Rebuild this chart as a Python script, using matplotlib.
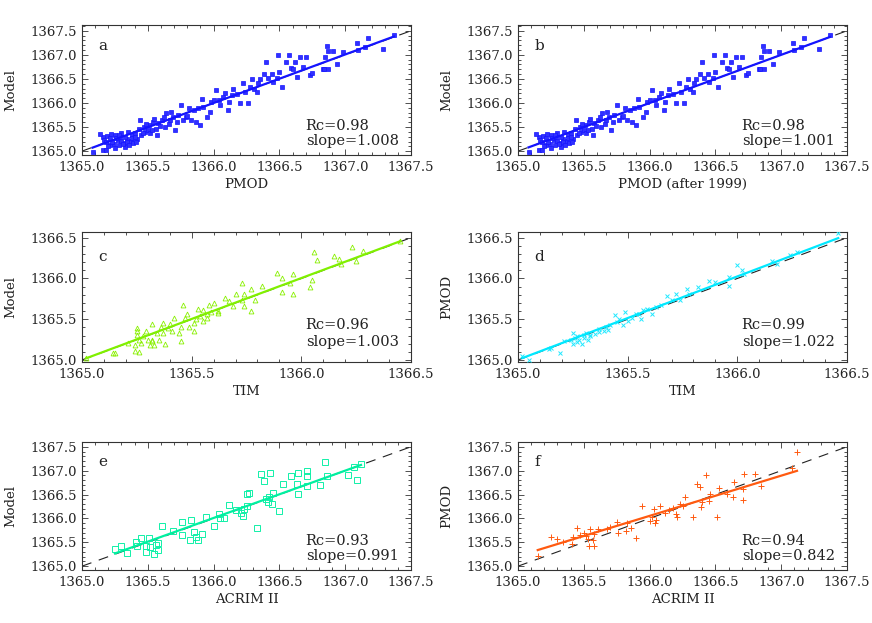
import numpy as np
import matplotlib
matplotlib.use("Agg")
import matplotlib.pyplot as plt
from matplotlib.ticker import MultipleLocator, FormatStrFormatter

plt.rcParams['font.family'] = ['DejaVu Serif']

# ---- data -----------------------------------------------------------------
# panel a / b : PMOD vs Model
pmod_a = [1365.08,1365.16,1365.18,1365.16,1365.19,1365.21,1365.17,1365.21,1365.24,1365.25,
          1365.27,1365.28,1365.29,1365.30,1365.32,1365.33,1365.34,1365.35,1365.37,1365.38,
          1365.39,1365.40,1365.42,1365.44,1365.45,1365.47,1365.48,1365.50,1365.51,1365.52,
          1365.54,1365.56,1365.57,1365.58,1365.61,1365.63,1365.64,1365.67,1365.69,1365.71,
          1365.73,1365.75,1365.77,1365.79,1365.81,1365.83,1365.85,1365.87,1365.90,1365.91,
          1365.92,1365.95,1365.97,1365.98,1366.00,1366.02,1366.04,1366.05,1366.07,1366.09,
          1366.11,1366.14,1366.15,1366.20,1366.22,1366.24,1366.26,1366.28,1366.29,1366.31,
          1366.34,1366.35,1366.38,1366.40,1366.41,1366.45,1366.48,1366.49,1366.50,1366.52,
          1366.55,1366.57,1366.59,1366.62,1366.63,1366.66,1366.68,1366.70,1366.73,1366.83,
          1366.85,1366.86,1366.87,1366.84,1366.87,1366.91,1366.94,1366.98,1367.09,1367.10,
          1367.15,1367.17,1367.29,1367.37,
          1365.14,1365.18,1365.20,1365.22,1365.23,1365.25,1365.26,1365.28,1365.30,1365.31,
          1365.33,1365.34,1365.36,1365.38,1365.40,1365.41,1365.43,1365.46,1365.49,1365.53,
          1365.55,1365.59,1365.62,1365.66,1365.68,1365.72,1365.80,1365.88,1366.12,1366.18,
          1366.33,1366.44,1366.60,1366.75]
model_a = [1364.98,1365.03,1365.02,1365.30,1365.31,1365.28,1365.24,1365.12,1365.15,1365.33,
           1365.23,1365.12,1365.30,1365.37,1365.17,1365.09,1365.26,1365.40,1365.21,1365.33,
           1365.16,1365.37,1365.26,1365.64,1365.33,1365.51,1365.40,1365.44,1365.54,1365.37,
           1365.61,1365.47,1365.33,1365.58,1365.64,1365.51,1365.80,1365.64,1365.71,1365.44,
           1365.75,1365.96,1365.64,1365.71,1365.89,1365.64,1365.85,1365.61,1365.54,1366.09,
           1365.92,1365.71,1365.82,1366.03,1366.06,1366.27,1366.06,1365.96,1366.13,1366.20,
           1365.85,1366.16,1366.30,1365.99,1366.41,1366.23,1365.99,1366.34,1366.49,1366.30,
           1366.41,1366.49,1366.61,1366.86,1366.51,1366.44,1366.51,1366.99,1366.65,1366.34,
           1366.86,1366.99,1366.72,1366.86,1366.55,1366.96,1366.75,1366.95,1366.58,1366.70,
           1366.96,1367.18,1367.07,1366.70,1366.70,1367.09,1366.80,1367.05,1367.24,1367.10,
           1367.17,1367.36,1367.12,1367.41,
           1365.35,1365.20,1365.10,1365.36,1365.19,1365.07,1365.28,1365.34,1365.22,1365.14,
           1365.30,1365.20,1365.13,1365.27,1365.29,1365.18,1365.45,1365.38,1365.56,1365.43,
           1365.66,1365.52,1365.70,1365.57,1365.82,1365.60,1365.74,1365.90,1366.02,1366.18,
           1366.22,1366.60,1366.70,1366.62]
pmod_b = pmod_a
model_b = model_a

# panel c : TIM vs Model
tim_c = [1365.02,1365.14,1365.15,1365.21,1365.24,1365.25,1365.25,1365.25,1365.26,1365.24,
         1365.26,1365.27,1365.28,1365.29,1365.30,1365.31,1365.32,1365.32,1365.32,1365.33,
         1365.34,1365.35,1365.36,1365.37,1365.37,1365.38,1365.39,1365.40,1365.41,1365.42,
         1365.44,1365.45,1365.45,1365.46,1365.47,1365.48,1365.49,1365.51,1365.51,1365.52,
         1365.53,1365.54,1365.55,1365.55,1365.57,1365.57,1365.58,1365.59,1365.60,1365.62,
         1365.62,1365.65,1365.67,1365.69,1365.70,1365.73,1365.73,1365.74,1365.74,1365.77,
         1365.77,1365.79,1365.82,1365.89,1365.91,1365.91,1365.95,1365.96,1365.96,1366.04,
         1366.05,1366.06,1366.07,1366.15,1366.17,1366.18,1366.23,1366.25,1366.28,1366.45]
model_c = [1365.03,1365.08,1365.08,1365.21,1365.11,1365.39,1365.35,1365.31,1365.10,1365.18,
           1365.25,1365.21,1365.29,1365.35,1365.25,1365.18,1365.23,1365.44,1365.25,1365.18,
           1365.33,1365.25,1365.41,1365.45,1365.33,1365.19,1365.39,1365.44,1365.35,1365.52,
           1365.33,1365.23,1365.41,1365.67,1365.52,1365.56,1365.40,1365.45,1365.35,1365.50,
           1365.62,1365.54,1365.48,1365.61,1365.57,1365.52,1365.68,1365.59,1365.70,1365.58,
           1365.60,1365.76,1365.72,1365.66,1365.81,1365.94,1365.74,1365.81,1365.66,1365.87,
           1365.60,1365.74,1365.91,1366.07,1366.00,1365.83,1365.95,1365.81,1366.05,1365.90,
           1365.98,1366.32,1366.23,1366.27,1366.24,1366.18,1366.38,1366.21,1366.34,1366.46]

# panel d : TIM vs PMOD
tim_d = [1365.02,1365.05,1365.14,1365.15,1365.19,1365.21,1365.24,1365.25,1365.25,1365.26,
         1365.27,1365.27,1365.28,1365.29,1365.30,1365.30,1365.31,1365.32,1365.33,1365.33,
         1365.35,1365.37,1365.37,1365.39,1365.40,1365.41,1365.42,1365.44,1365.45,1365.46,
         1365.48,1365.49,1365.50,1365.52,1365.54,1365.55,1365.56,1365.57,1365.59,1365.61,
         1365.63,1365.65,1365.68,1365.70,1365.72,1365.74,1365.77,1365.78,1365.82,1365.87,
         1365.90,1365.96,1365.96,1366.00,1366.02,1366.03,1366.16,1366.18,1366.24,1366.27,
         1366.46]
pmod_d = [1365.05,1365.00,1365.14,1365.15,1365.09,1365.23,1365.25,1365.33,1365.19,1365.27,
          1365.22,1365.29,1365.25,1365.19,1365.31,1365.27,1365.33,1365.25,1365.29,1365.31,
          1365.32,1365.34,1365.38,1365.36,1365.41,1365.37,1365.43,1365.55,1365.47,1365.50,
          1365.43,1365.59,1365.48,1365.52,1365.56,1365.57,1365.50,1365.61,1365.63,1365.56,
          1365.65,1365.67,1365.79,1365.73,1365.81,1365.74,1365.87,1365.81,1365.90,1365.97,
          1365.96,1366.02,1365.91,1366.16,1366.10,1366.05,1366.21,1366.18,1366.29,1366.32,
          1366.56]

# panel e : ACRIM II vs Model
acrim_e = [1365.25,1365.30,1365.34,1365.41,1365.42,1365.45,1365.49,1365.49,1365.51,1365.52,
           1365.55,1365.56,1365.58,1365.58,1365.61,1365.69,1365.76,1365.76,1365.82,1365.83,
           1365.85,1365.87,1365.88,1365.91,1365.94,1366.00,1366.04,1366.05,1366.08,1366.12,
           1366.17,1366.21,1366.22,1366.23,1366.25,1366.27,1366.25,1366.33,1366.36,1366.38,
           1366.40,1366.41,1366.42,1366.43,1366.45,1366.44,1366.50,1366.53,1366.59,1366.63,
           1366.64,1366.64,1366.71,1366.71,1366.71,1366.81,1366.85,1366.86,1367.02,1367.07,
           1367.09,1367.12]
model_e = [1365.35,1365.42,1365.28,1365.50,1365.43,1365.58,1365.43,1365.30,1365.58,1365.40,
           1365.26,1365.45,1365.49,1365.33,1365.85,1365.73,1365.92,1365.65,1365.54,1365.96,
           1365.72,1365.62,1365.54,1365.68,1366.02,1365.84,1366.10,1366.00,1366.00,1366.29,
           1366.18,1366.11,1366.06,1366.20,1366.51,1366.54,1366.27,1365.80,1366.93,1366.79,
           1366.41,1366.34,1366.45,1366.96,1366.54,1366.30,1366.15,1366.73,1366.88,1366.73,
           1366.96,1366.52,1367.00,1366.89,1366.67,1366.70,1367.19,1366.88,1366.91,1367.08,
           1366.80,1367.14]

# panel f : ACRIM II vs PMOD
acrim_f = [1365.15,1365.25,1365.30,1365.34,1365.41,1365.42,1365.45,1365.47,1365.50,1365.52,
           1365.53,1365.54,1365.55,1365.57,1365.58,1365.58,1365.61,1365.68,1365.70,1365.75,
           1365.76,1365.82,1365.83,1365.86,1365.90,1365.94,1366.00,1366.02,1366.03,1366.04,
           1366.05,1366.08,1366.12,1366.15,1366.18,1366.20,1366.21,1366.23,1366.25,1366.27,
           1366.33,1366.36,1366.38,1366.39,1366.40,1366.43,1366.45,1366.46,1366.51,1366.53,
           1366.59,1366.63,1366.64,1366.71,1366.71,1366.72,1366.80,1366.85,1367.08,1367.12]
pmod_f = [1365.22,1365.61,1365.57,1365.51,1365.47,1365.61,1365.80,1365.66,1365.70,1365.63,
          1365.57,1365.43,1365.78,1365.54,1365.42,1365.68,1365.78,1365.78,1365.81,1365.93,
          1365.70,1365.73,1365.90,1365.79,1365.59,1366.27,1365.94,1366.03,1366.20,1365.90,
          1365.97,1366.27,1366.11,1366.17,1366.22,1366.10,1366.04,1366.31,1366.27,1366.45,
          1366.04,1366.73,1366.66,1366.24,1366.34,1366.91,1366.36,1366.52,1366.04,1366.64,
          1366.52,1366.45,1366.77,1366.38,1366.61,1366.93,1366.93,1366.68,1367.05,1367.40]

letters = ['a', 'b', 'c', 'd', 'e', 'f']
xlabels = ['PMOD', 'PMOD (after 1999)', 'TIM', 'TIM', 'ACRIM II', 'ACRIM II']
ylabels = ['Model', 'Model', 'Model', 'PMOD', 'Model', 'PMOD']
rc_vals = [0.98, 0.98, 0.96, 0.99, 0.93, 0.94]
slopes = [1.008, 1.001, 1.003, 1.022, 0.991, 0.842]

xs = [pmod_a, pmod_b, tim_c, tim_d, acrim_e, acrim_f]
ys = [model_a, model_b, model_c, pmod_d, model_e, pmod_f]

# ---- styling ---------------------------------------------------------------
colors = ['#1414ff', '#1414ff', '#80f000', '#00e8ff', '#00f0a0', '#ff5a10']
marks = [dict(marker='s', ms=2.6, mfc='#3030ff', mec='#1414ff', mew=0.5),
         dict(marker='s', ms=2.6, mfc='#3030ff', mec='#1414ff', mew=0.5),
         dict(marker='^', ms=3.5, mfc='none', mec='#88f000', mew=0.6),
         dict(marker='x', ms=3.3, mfc='none', mec='#20e8ff', mew=0.7),
         dict(marker='s', ms=3.8, mfc='none', mec='#10f0a8', mew=0.7),
         dict(marker='+', ms=3.8, mfc='none', mec='#ff5a10', mew=0.7)]

W, H = 872, 623
cols = [82, 518]
rows = [(25, 155), (232, 362), (442, 570)]
xlims = [(1365.0, 1367.5), (1365.0, 1366.5), (1365.0, 1367.5)]
ylims = [(1364.92, 1367.62), (1364.975, 1366.57), (1364.92, 1367.60)]
txt_y = [(0.22, 0.11), (0.285, 0.155), (0.23, 0.11)]
let_y = [0.84, 0.81, 0.845]

fig = plt.figure(figsize=(W/100, H/100), dpi=100)

for i in range(6):
    r, c = divmod(i, 2)
    top, bot = rows[r]
    ax = fig.add_axes([cols[c]/W, (H-bot)/H, 329/W, (bot-top)/H])
    x = np.array(xs[i]); y = np.array(ys[i])
    lo, hi = xlims[r]
    ax.plot([lo, hi], [lo, hi], color='#222222', lw=0.8, dashes=(9, 7), zorder=2)
    ax.plot(x, y, ls='none', zorder=3, **marks[i])
    xf = np.array([x.min(), x.max()])
    ax.plot(xf, y.mean()+slopes[i]*(xf-x.mean()), color=colors[i], lw=1.6, zorder=4)
    ax.set_xlim(lo, hi); ax.set_ylim(*ylims[r])
    ax.xaxis.set_major_locator(MultipleLocator(0.5)); ax.xaxis.set_minor_locator(MultipleLocator(0.1))
    ax.yaxis.set_major_locator(MultipleLocator(0.5)); ax.yaxis.set_minor_locator(MultipleLocator(0.1))
    ax.xaxis.set_major_formatter(FormatStrFormatter('%.1f'))
    ax.yaxis.set_major_formatter(FormatStrFormatter('%.1f'))
    ax.tick_params(which='both', direction='in', top=True, right=True, width=0.6, labelsize=9.5,
                   color='#333333', labelcolor='#222222')
    ax.tick_params(which='major', length=4.5, pad=4)
    ax.tick_params(which='minor', length=2.2)
    for s in ax.spines.values():
        s.set_linewidth(0.8); s.set_color('#333333')
    ax.set_xlabel(xlabels[i], fontsize=9.5, labelpad=3, color='#222222')
    ax.set_ylabel(ylabels[i], fontsize=9.5, labelpad=9, color='#222222')
    ax.text(0.05, let_y[r], letters[i], transform=ax.transAxes, fontsize=11, color='#222222', va='center')
    t1, t2 = txt_y[r]
    ax.text(0.68, t1, f"Rc={rc_vals[i]:.2f}", transform=ax.transAxes, fontsize=10.5, color='#222222', va='center')
    ax.text(0.68, t2, f"slope={slopes[i]:.3f}", transform=ax.transAxes, fontsize=10.5, color='#222222', va='center')

fig.savefig('out.png', dpi=100)
